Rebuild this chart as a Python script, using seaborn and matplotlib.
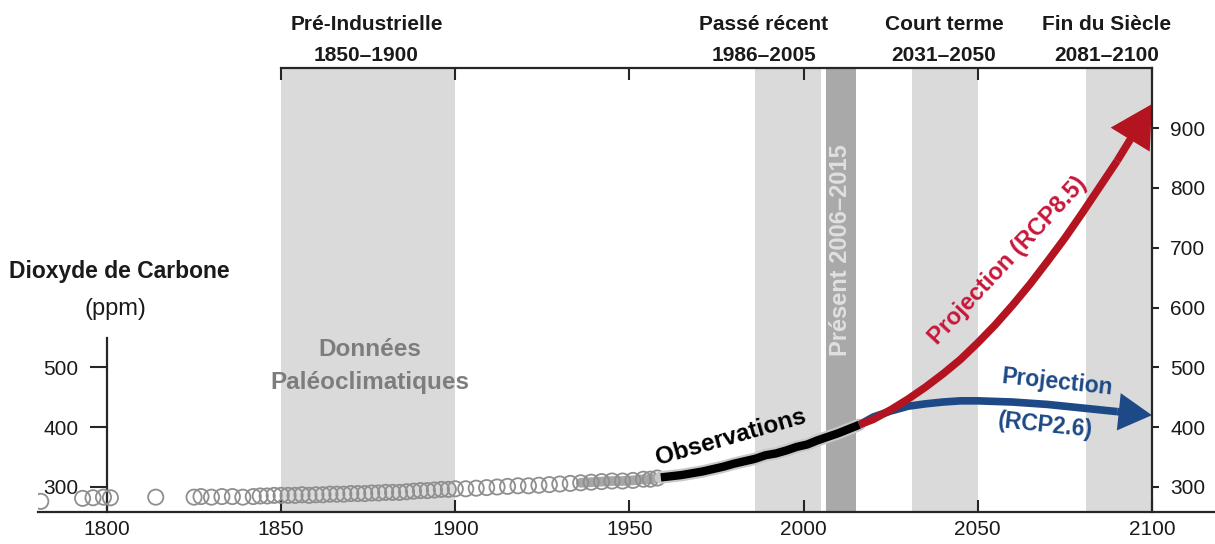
import matplotlib
matplotlib.use("Agg")
import matplotlib.pyplot as plt
import seaborn as sns
import pandas as pd

# ---------------- data ----------------
ice_years = [1781, 1793, 1796, 1799, 1801, 1814, 1825, 1827, 1830, 1833, 1836, 1839,
             1842, 1844, 1846, 1848, 1850, 1852, 1854, 1856, 1858, 1860, 1862, 1864,
             1866, 1868, 1870, 1872, 1874, 1876, 1878, 1880, 1882, 1884, 1886, 1888,
             1890, 1892, 1894, 1896, 1898, 1900, 1903, 1906, 1909, 1912, 1915, 1918,
             1921, 1924, 1927, 1930, 1933, 1936, 1939, 1942, 1945, 1948, 1951, 1954,
             1956, 1958]
ice_co2 = [276, 281, 282, 283, 282, 283, 283, 284, 283, 284, 284, 283,
           284, 285, 285, 286, 286, 286, 286, 287, 286, 287, 287, 288,
           288, 288, 289, 289, 289, 290, 290, 291, 291, 291, 292, 293,
           294, 294, 295, 296, 296, 297, 297, 298, 299, 300, 301, 302,
           302, 303, 304, 305, 306, 307, 308, 309, 310, 310, 311, 313,
           313, 315]

obs_years = [1959, 1962, 1965, 1968, 1971, 1974, 1977, 1980, 1983, 1986,
             1989, 1992, 1995, 1998, 2001, 2004, 2007, 2010, 2013, 2016]
obs_co2 = [316, 318, 320, 323, 326, 330, 334, 339, 343, 347,
           353, 356, 361, 367, 371, 378, 384, 390, 397, 404]

proj_years = [2016, 2020, 2025, 2030, 2035, 2040, 2045, 2050, 2055, 2060,
              2065, 2070, 2075, 2080, 2090, 2100]
rcp85_co2 = [404, 413, 429, 447, 467, 489, 513, 541, 571, 604,
             639, 677, 716, 758, 845, 940]
rcp26_co2 = [404, 417, 427, 435, 439, 442, 444, 444, 443, 442,
             440, 438, 435, 432, 426, 420]

period_names = ["Pré-Industrielle", "Passé récent", "Court terme", "Fin du Siècle"]
period_ranges = ["1850–1900", "1986–2005", "2031–2050", "2081–2100"]
period_start = [1850, 1986, 2031, 2081]
period_end = [1900, 2005, 2050, 2100]
label_x = [1874.5, 1988.5, 2040.3, 2087.0]
present_start, present_end = 2006.3, 2015
present_label = "Présent 2006–2015"

x_ticks = [1800, 1850, 1900, 1950, 2000, 2050, 2100]
top_ticks = [1850, 1900, 1950, 2000, 2050, 2100]
left_ticks = [300, 400, 500]
right_ticks = [300, 400, 500, 600, 700, 800, 900]

# ---------------- style ----------------
sns.set_theme(style="white")
plt.rcParams["font.family"] = ["Liberation Sans", "DejaVu Sans"]
plt.rcParams["axes.linewidth"] = 1.5

XLIM = (1780.2, 2118.1)
YLIM = (258.2, 1000.3)
SPINE = "#262626"
LIGHT = "#dadada"
DARK = "#a9a9a9"
RED_LINE = "#b3141f"
RED_TEXT = "#c8163a"
BLUE = "#1d4a86"

fig = plt.figure(figsize=(12.15, 5.44), dpi=100)
ax = fig.add_axes([38 / 1215, (544 - 512) / 544, (1215 - 38) / 1215, (512 - 68) / 544])
ax.set_facecolor("white")
ax.set_xlim(*XLIM)
ax.set_ylim(*YLIM)

# shaded periods
for s, e in zip(period_start, period_end):
    ax.axvspan(s, e, color=LIGHT, lw=0, zorder=0)
ax.axvspan(present_start, present_end, color=DARK, lw=0, zorder=0)

# ice core circles
ice_df = pd.DataFrame({"year": ice_years, "co2": ice_co2})
late = ice_df[ice_df.year >= 1936]
sns.lineplot(data=late, x="year", y="co2", ax=ax, color="#a6a6a6", lw=7,
             estimator=None, sort=False, zorder=2, solid_capstyle="round")
sns.scatterplot(data=ice_df, x="year", y="co2", ax=ax, s=120, facecolor="none",
                edgecolor="#8f8f8f", linewidth=1.3, zorder=3, legend=False)

# observations
obs_df = pd.DataFrame({"year": obs_years, "co2": obs_co2})
sns.lineplot(data=obs_df, x="year", y="co2", ax=ax, color="#c8c8c8", lw=9,
             estimator=None, sort=False, zorder=3)
sns.lineplot(data=obs_df, x="year", y="co2", ax=ax, color="black", lw=6,
             estimator=None, sort=False, zorder=4, solid_capstyle="butt")

# projections
def projection(vals, color, hl, hw, tw, lw):
    df = pd.DataFrame({"year": proj_years[:-1], "co2": vals[:-1]})
    sns.lineplot(data=df, x="year", y="co2", ax=ax, color=color, lw=lw,
                 estimator=None, sort=False, zorder=5, solid_capstyle="butt")
    ax.annotate("", xy=(proj_years[-1], vals[-1]), xytext=(proj_years[-2], vals[-2]),
                arrowprops=dict(arrowstyle=f"simple,head_length={hl},head_width={hw},tail_width={tw}",
                                mutation_scale=10, facecolor=color, edgecolor="none",
                                shrinkA=0, shrinkB=0),
                zorder=6, annotation_clip=False)

projection(rcp26_co2, BLUE, 2.4, 2.7, 0.55, 5.5)
projection(rcp85_co2, RED_LINE, 3.0, 3.3, 0.55, 5.5)

# ---------------- axes / spines ----------------
ax.set_xlabel("")
ax.set_ylabel("")
for side in ["top", "right"]:
    ax.spines[side].set_visible(False)
ax.spines["left"].set_position(("data", 1800))
ax.spines["left"].set_bounds(YLIM[0], 549)
for sp in ["left", "bottom"]:
    ax.spines[sp].set_color(SPINE)
    ax.spines[sp].set_linewidth(1.6)
ax.set_xticks(x_ticks)
ax.set_xticklabels([str(t) for t in x_ticks])
ax.set_yticks(left_ticks)
ax.set_yticklabels([str(t) for t in left_ticks])
ax.tick_params(axis="x", direction="in", length=8.5, width=1.5, colors=SPINE,
               labelsize=15, pad=6, bottom=True, labelcolor="#1a1a1a")
ax.tick_params(axis="y", direction="out", length=12.5, width=1.5, colors=SPINE,
               labelsize=15, pad=8, left=True, labelcolor="#1a1a1a")

ax2 = ax.twinx()
ax2.set_ylim(*YLIM)
for side in ["top", "left", "bottom"]:
    ax2.spines[side].set_visible(False)
ax2.spines["right"].set_position(("data", 2100))
ax2.spines["right"].set_color(SPINE)
ax2.spines["right"].set_linewidth(1.6)
ax2.set_yticks(right_ticks)
ax2.set_yticklabels([str(t) for t in right_ticks])
ax2.tick_params(axis="y", direction="out", length=5, width=1.5, colors=SPINE,
                labelsize=15, pad=8, right=True, labelcolor="#1a1a1a")
ax2.grid(False)

ax3 = ax.twiny()
ax3.set_xlim(*XLIM)
for side in ["bottom", "left", "right"]:
    ax3.spines[side].set_visible(False)
ax3.spines["top"].set_bounds(1850, 2100)
ax3.spines["top"].set_color(SPINE)
ax3.spines["top"].set_linewidth(1.6)
ax3.set_xticks(top_ticks)
ax3.tick_params(axis="x", direction="in", length=8.5, width=1.5, colors=SPINE,
                labeltop=False, top=True)
ax3.grid(False)
ax.grid(False)

# ---------------- texts ----------------
tr = ax.get_xaxis_transform()
for name, rng, lx in zip(period_names, period_ranges, label_x):
    ax.text(lx, 1.099, name, transform=tr, ha="center", va="center", fontsize=15,
            fontweight="bold", color="#1a1a1a", clip_on=False)
    ax.text(lx, 1.029, rng, transform=tr, ha="center", va="center", fontsize=15,
            fontweight="bold", color="#1a1a1a", clip_on=False)

ax.text(2010.5, 696, present_label, rotation=90,
        ha="center", va="center", fontsize=17, fontweight="bold", color="#e0e0e0", zorder=1)

ax.text(1875.5, 530, "Données", ha="center", va="center", fontsize=17.5,
        fontweight="bold", color="#7d7d7d", zorder=1)
ax.text(1875.5, 475, "Paléoclimatiques", ha="center", va="center", fontsize=17.5,
        fontweight="bold", color="#7d7d7d", zorder=1)

ax.text(1803.5, 660, "Dioxyde de Carbone", ha="center", va="center", fontsize=16.5,
        fontweight="bold", color="#1a1a1a", clip_on=False)
ax.text(1802.5, 597, "(ppm)", ha="center", va="center", fontsize=17,
        color="#1a1a1a", clip_on=False)

ax.text(1979.2, 383, "Observations", rotation=16, rotation_mode="anchor",
        ha="center", va="center", fontsize=17.5, fontweight="bold", color="black", zorder=7)
ax.text(2058.7, 679, "Projection (RCP8.5)", rotation=47, rotation_mode="anchor",
        ha="center", va="center", fontsize=17, fontweight="bold", color=RED_TEXT, zorder=7)
ax.text(2072.7, 474, "Projection", rotation=-6, rotation_mode="anchor",
        ha="center", va="center", fontsize=16.5, fontweight="bold", color=BLUE, zorder=7)
ax.text(2069.3, 403, "(RCP2.6)", rotation=-6, rotation_mode="anchor",
        ha="center", va="center", fontsize=16.5, fontweight="bold", color=BLUE, zorder=7)

fig.savefig("out.png", dpi=100)
